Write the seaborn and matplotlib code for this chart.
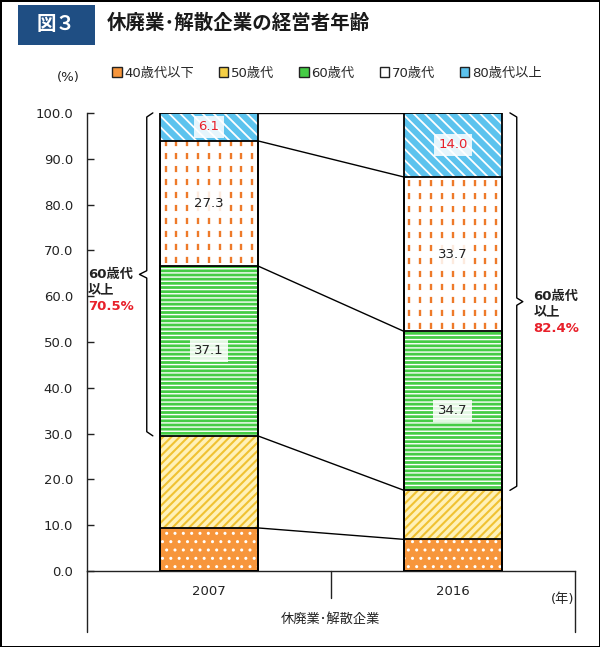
import matplotlib
matplotlib.use("Agg")
import matplotlib.pyplot as plt
import matplotlib.patches as mpatches
import numpy as np
import seaborn as sns

# shares of business closures by age of the manager (%)
years = ["2007", "2016"]
age_groups = ["40歳代以下", "50歳代", "60歳代", "70歳代", "80歳代以上"]
under40 = [9.4, 6.9]
age50s = [20.1, 10.7]
age60s = [37.1, 34.7]
age70s = [27.3, 33.7]
over80 = [6.1, 14.0]

layers = [under40, age50s, age60s, age70s, over80]
faces = ["#F7963C", "#FFF1B8", "#45CC45", "#FFFFFF", "#5CC3EE"]
hatches = ["..", "////", "----", None, "\\\\\\"]
hatch_cols = ["#FFFFFF", "#F0C232", "#FFFFFF", None, "#FFFFFF"]
hatch_lws = [1.0, 1.5, 1.0, 1.0, 1.3]
label_groups = [2, 3, 4]

sns.set_style("ticks")
plt.rcParams["font.family"] = ["DejaVu Sans", "Noto Sans CJK JP"]

fig = plt.figure(figsize=(6, 6.47), dpi=100)
fig.patch.set_edgecolor("black")
fig.patch.set_linewidth(2)
ax = fig.add_axes([0.145, 0.1175, 0.813, 0.708])

cum = np.cumsum(np.array(layers), axis=0)
width = 0.4
bar_patches = {}
for i in range(len(layers) - 1, -1, -1):
    plt.rcParams["hatch.linewidth"] = hatch_lws[i]
    n0 = len(ax.patches)
    sns.barplot(x=years, y=cum[i], order=years, color=faces[i], saturation=1,
                width=width, errorbar=None, ax=ax)
    new = ax.patches[n0:]
    for p in new:
        p.set_linewidth(0)
        p.set_zorder(1)
        if hatches[i]:
            p.set_hatch(hatches[i])
            p.set_edgecolor(hatch_cols[i])
        else:
            p.set_edgecolor(faces[i])
    bar_patches[i] = new

# outlines
for i in range(len(layers)):
    for p in bar_patches[i]:
        ax.add_patch(mpatches.Rectangle(p.get_xy(), p.get_width(), p.get_height(),
                                        fill=False, edgecolor="black", lw=1.3, zorder=3))

# dashed vertical marks for the 70s band
for j, p in enumerate(bar_patches[3]):
    x0, w = p.get_x(), p.get_width()
    xs = x0 + w * (np.arange(9) + 0.5) / 9
    ax.vlines(xs, cum[2][j] + 0.6, cum[3][j], colors="#EE7A2A", lw=1.7,
              linestyles=(0, (2.6, 2.9)), zorder=2)

# connecting lines between bars
for i in range(len(layers)):
    ax.plot([width / 2, 1 - width / 2], [cum[i][0], cum[i][1]], color="black",
            lw=1, zorder=2)

# value labels
for i in label_groups:
    for j in range(len(years)):
        mid = cum[i][j] - layers[i][j] / 2
        ax.text(j, mid, f"{layers[i][j]:.1f}", ha="center", va="center", fontsize=9.5,
                color="#E8202A" if i == 4 else "#222222", zorder=5,
                bbox=dict(boxstyle="square,pad=0.35", fc="white", ec="none", alpha=0.85))


def bracket(xl, hook, tip, lo, hi):
    mid = (lo + hi) / 2
    xs = [xl + hook, xl, xl, xl + tip, xl, xl, xl + hook]
    ys = [hi, hi - 0.9, mid + 0.8, mid, mid - 0.8, lo + 0.9, lo]
    ax.plot(xs, ys, color="black", lw=1, clip_on=False, zorder=3)
    return mid


senior = [age60s[j] + age70s[j] + over80[j] for j in range(len(years))]
mid0 = bracket(-0.255, 0.025, -0.03, cum[1][0], cum[4][0])
mid1 = bracket(1.262, -0.028, 0.025, cum[1][1], cum[4][1])

for x, mid, share, dy in [(-0.497, mid0, senior[0], 0), (1.33, mid1, senior[1], 4)]:
    lines = [("60歳代", "#222222"), ("以上", "#222222"), (f"{share:.1f}%", "#E8202A")]
    for k, (t, c) in enumerate(lines):
        ax.annotate(t, xy=(x, mid), xytext=(0, dy - 11.5 * k), textcoords="offset points",
                    ha="left", va="center", fontsize=9.5, fontweight="bold", color=c,
                    annotation_clip=False)

ax.set_ylim(0, 100)
ax.set_xlim(-0.5, 1.5)
ax.set_yticks(np.arange(0, 101, 10))
ax.set_yticklabels([f"{v:.1f}" for v in np.arange(0, 101, 10)])
ax.tick_params(axis="y", direction="in", length=5, width=1, labelsize=9.5, pad=10,
               colors="#222222")
ax.tick_params(axis="x", length=0, labelsize=9.5, pad=10, colors="#222222")
ax.set_xlabel("")
ax.set_ylabel("")
sns.despine(ax=ax, top=True, right=True)
for s in ["left", "bottom"]:
    ax.spines[s].set_color("#222222")
    ax.spines[s].set_linewidth(1)

# category box lines below the axis
ax.plot([-0.5, -0.5], [0, -13.3], color="#222222", lw=1, clip_on=False)
ax.plot([1.5, 1.5], [0, -13.3], color="#222222", lw=1, clip_on=False)
ax.plot([0.5, 0.5], [0, -5.8], color="#222222", lw=1, clip_on=False)
ax.text(1.5, -6.3, "(年)", ha="right", va="center", fontsize=9.5, color="#222222")
ax.text(0.5, -10.5, "休廃業･解散企業", ha="center", va="center", fontsize=9.5,
        color="#222222")

# legend
handles = [mpatches.Patch(facecolor=f if f != "#FFF1B8" else "#F5CF45",
                          edgecolor="#222222", lw=1) for f in faces]
fig.legend(handles, age_groups, loc="center", bbox_to_anchor=(0.545, 0.887), ncol=5,
           frameon=False, fontsize=9.5, handlelength=0.7, handleheight=0.7,
           handletextpad=0.2, columnspacing=1.9)
fig.text(68 / 600, 1 - 77 / 647, "(%)", ha="center", va="center", fontsize=9.5,
         color="#222222")

# title block
fig.patches.append(mpatches.Rectangle((18 / 600, 1 - 45 / 647), 77 / 600, 40 / 647,
                                      transform=fig.transFigure, facecolor="#1F4E83",
                                      edgecolor="none"))
fig.text(56 / 600, 1 - 24 / 647, "図３", ha="center", va="center", fontsize=14,
         fontweight="bold", color="white")
fig.text(107 / 600, 1 - 23 / 647, "休廃業･解散企業の経営者年齢", ha="left", va="center",
         fontsize=14, fontweight="bold", color="#1A1A1A")

fig.savefig("out.png", dpi=100, edgecolor=fig.get_edgecolor())
